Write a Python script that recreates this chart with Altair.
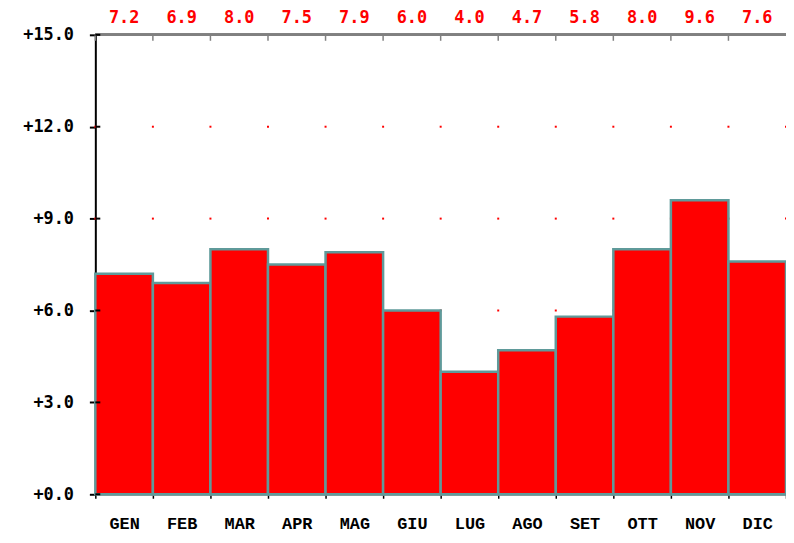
import altair as alt
import pandas as pd

months = ["GEN", "FEB", "MAR", "APR", "MAG", "GIU", "LUG", "AGO", "SET", "OTT", "NOV", "DIC"]
values = [7.2, 6.9, 8.0, 7.5, 7.9, 6.0, 4.0, 4.7, 5.8, 8.0, 9.6, 7.6]
y_ticks = [0, 3, 6, 9, 12, 15]
grid_levels = [3, 6, 9, 12]

W, H = 696, 463
RED = "#ff0000"
BAR_STROKE = "#5f9a9a"

df = pd.DataFrame({"month": months, "value": values})
grid = pd.DataFrame([{"month": m, "level": g} for m in months for g in grid_levels])
grid_last = pd.DataFrame([{"month": months[-1], "level": g} for g in grid_levels])
ticks_df = pd.DataFrame({"level": y_ticks})

x_scale = alt.Scale(domain=months, paddingInner=0, paddingOuter=0)
y_scale = alt.Scale(domain=[0, 15], nice=False, zero=True)

x_axis = alt.Axis(
    title=None, orient="bottom", domainColor="#808080", domainWidth=2,
    tickBand="extent", tickColor="#000000", tickSize=4, tickWidth=1.5,
    labelFont="Liberation Mono", labelFontWeight="bold", labelFontSize=17,
    labelColor="#000000", labelPadding=17, labelAngle=0,
)
y_axis = alt.Axis(
    title=None, values=y_ticks, domainColor="#000000", domainWidth=2,
    tickColor="#000000", tickSize=6, tickWidth=2, grid=False,
    labelFont="DejaVu Sans Mono", labelFontWeight="bold", labelFontSize=17,
    labelColor="#000000", labelPadding=16,
    labelExpr="'+' + format(datum.value, '.1f')",
)

base_x = alt.X("month:N", scale=x_scale, axis=x_axis, sort=months)

dots = alt.Chart(grid).mark_square(size=4, color=RED, opacity=1).encode(
    x=alt.X("month:N", scale=x_scale, sort=months, bandPosition=0, axis=x_axis),
    y=alt.Y("level:Q", scale=y_scale, axis=y_axis),
)
dots_last = alt.Chart(grid_last).mark_square(size=4, color=RED, opacity=1).encode(
    x=alt.X("month:N", scale=x_scale, sort=months, bandPosition=1),
    y=alt.Y("level:Q", scale=y_scale),
)

bars = alt.Chart(df).mark_bar(color=RED, stroke=BAR_STROKE, strokeWidth=2.5).encode(
    x=base_x,
    y=alt.Y("value:Q", scale=y_scale, axis=y_axis),
)

top_line = alt.Chart(df).mark_rule(color="#808080", strokeWidth=2).encode(
    x=alt.value(0), x2=alt.value(W), y=alt.value(0)
)
top_ticks = alt.Chart(df).mark_rule(color="#808080", strokeWidth=1.5).encode(
    x=alt.X("month:N", scale=x_scale, sort=months, bandPosition=0),
    y=alt.value(0), y2=alt.value(6),
)
y_inner_ticks = alt.Chart(ticks_df).mark_rule(color="#000000", strokeWidth=2).encode(
    y=alt.Y("level:Q", scale=y_scale),
    x=alt.value(0), x2=alt.value(5),
)

labels = alt.Chart(df).mark_text(
    color=RED, font="DejaVu Sans Mono", fontWeight="bold", fontSize=17,
    baseline="middle", align="center",
).encode(
    x=base_x,
    y=alt.value(-17),
    text=alt.Text("value:Q", format=".1f"),
)

chart = alt.layer(
    dots, dots_last, bars, top_line, top_ticks, y_inner_ticks, labels
).properties(
    width=W, height=H,
    autosize=alt.AutoSizeParams(type="none"),
    padding={"left": 88, "top": 25, "right": 0, "bottom": 39},
).configure_view(stroke=None).configure(background="#ffffff")

chart.save("out.html", embed_options={"renderer": "svg", "actions": False})
